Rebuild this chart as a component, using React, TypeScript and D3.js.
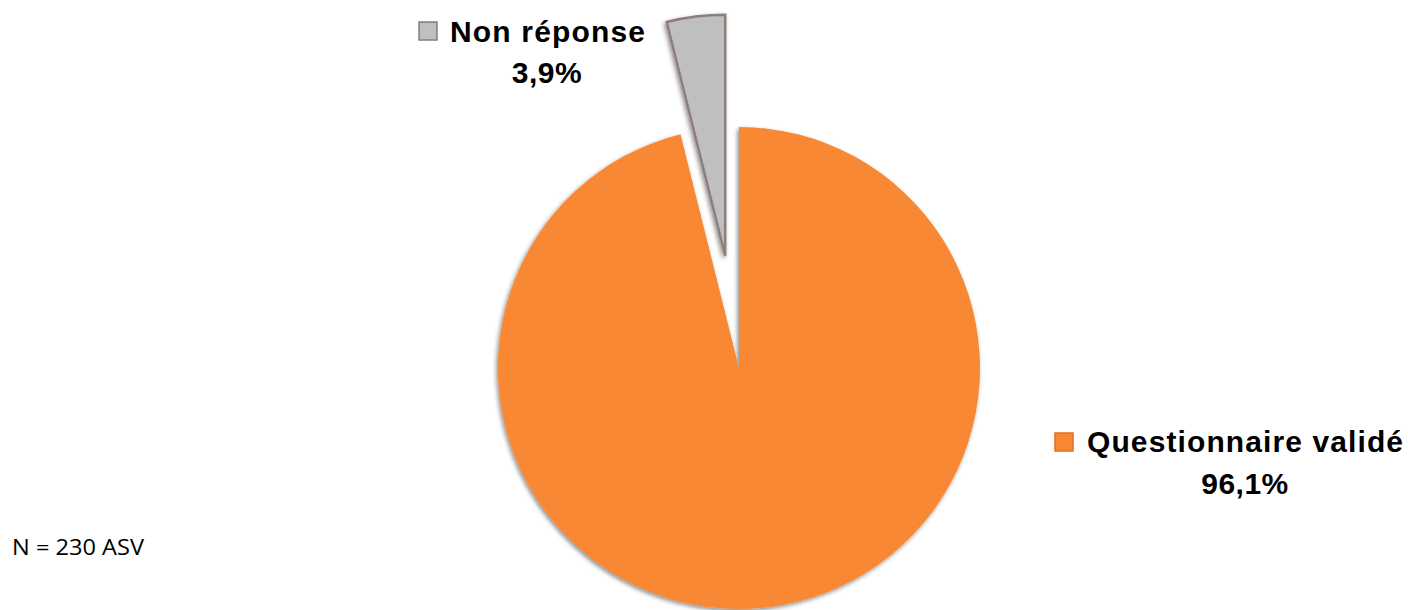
import React from "react";
import * as d3 from "d3";

const categories = ["Questionnaire validé", "Non réponse"];
const values = [96.1, 3.9];
const valueLabels = ["96,1%", "3,9%"];
const colors = ["#F98834", "#BFBFBF"];
const note = "N = 230 ASV";

const W = 1408;
const H = 610;
const cx = 739;
const cy = 368;
const R = 241;
const explode = [0, 113];

export default function App() {
  const pie = d3
    .pie<number>()
    .sort(null)
    .value((d) => d)
    .startAngle(0)
    .endAngle(2 * Math.PI);
  const arcs = pie(values);
  const arcGen = d3.arc<d3.PieArcDatum<number>>().innerRadius(0).outerRadius(R);

  const labelPos = [
    { sx: 1055, sy: 433, tx: 1087, ty: 452, tw: 316, vx: 1245, vy: 494 },
    { sx: 419, sy: 22, tx: 450, ty: 42, tw: 195, vx: 547, vy: 83 },
  ];

  return (
    <svg
      width={W}
      height={H}
      style={{ position: "absolute", left: 0, top: 0, background: "#fff" }}
    >
      <defs>
        <filter id="sh" x="-20%" y="-20%" width="140%" height="140%">
          <feDropShadow dx={-1.5} dy={2} stdDeviation={2} floodColor="#000" floodOpacity={0.45} />
        </filter>
      </defs>
      {arcs.map((a, i) => {
        const mid = (a.startAngle + a.endAngle) / 2;
        const ox = Math.sin(mid) * explode[i];
        const oy = -Math.cos(mid) * explode[i];
        return (
          <path
            key={i}
            d={arcGen(a) || ""}
            transform={`translate(${cx + ox},${cy + oy})`}
            fill={colors[i]}
            stroke={i === 1 ? "#8C7F7A" : "none"}
            strokeWidth={i === 1 ? 2.5 : 0}
            strokeLinejoin="miter"
            filter="url(#sh)"
          />
        );
      })}
      {categories.map((c, i) => {
        const p = labelPos[i];
        return (
          <g key={c} fontFamily="'Liberation Sans', Arial, sans-serif" fontWeight="bold" fontSize={30} fill="#000">
            <rect
              x={p.sx}
              y={p.sy}
              width={18}
              height={18}
              fill={colors[i]}
              stroke={i === 1 ? "#7F7F7F" : "#E07020"}
              strokeWidth={1.5}
            />
            <text x={p.tx} y={p.ty} textLength={p.tw} lengthAdjust="spacing">
              {c}
            </text>
            <text x={p.vx} y={p.vy} textAnchor="middle" letterSpacing={0.5}>
              {valueLabels[i]}
            </text>
          </g>
        );
      })}
      <text
        x={12}
        y={555}
        fontFamily="'Open Sans', 'Liberation Sans', sans-serif"
        fontSize={21}
        fill="#000"
        textLength={132}
        lengthAdjust="spacingAndGlyphs"
      >
        {note}
      </text>
    </svg>
  );
}
